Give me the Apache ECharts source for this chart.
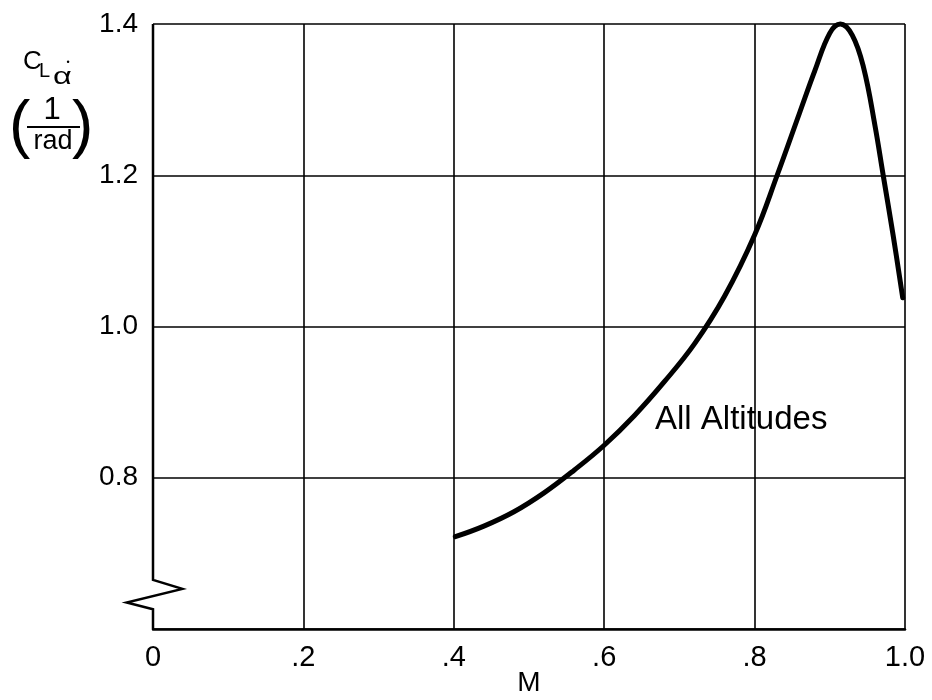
<!DOCTYPE html>
<html>
<head>
<meta charset="utf-8">
<script src="https://cdn.jsdelivr.net/npm/echarts@6.0.0/dist/echarts.min.js"></script>
<style>
  html, body { margin: 0; padding: 0; background: #fff; }
  #main { width: 932px; height: 700px; }
</style>
</head>
<body>
<div id="main"></div>
<script>
// Mach number vs lift derivative
const machValues = [0.402, 0.44, 0.48, 0.52, 0.56, 0.60, 0.64, 0.68, 0.72, 0.76, 0.80, 0.83, 0.86, 0.88, 0.90, 0.914, 0.93, 0.945, 0.96, 0.971, 0.984, 0.997];
const clAlphaDot = [0.722, 0.736, 0.755, 0.780, 0.810, 0.843, 0.882, 0.927, 0.977, 1.040, 1.121, 1.200, 1.283, 1.338, 1.388, 1.400, 1.385, 1.342, 1.266, 1.200, 1.122, 1.038];

const xTickLabels = ['0', '.2', '.4', '.6', '.8', '1.0'];
const yTickLabels = ['', '0.8', '1.0', '1.2', '1.4']; // 0.6 is left blank (broken axis)

// left axis with the zigzag break near the bottom
const breakMarkX = [0, 0, 0.039, -0.035, 0, 0];
const breakMarkY = [1.4, 0.665, 0.653, 0.635, 0.626, 0.6];

const curveLabel = 'All Altitudes';

const FONT = 'Liberation Sans';

const chart = echarts.init(document.getElementById('main'), null, { renderer: 'canvas' });

function txt(x, y, text, size, extra) {
    return {
        type: 'text', x: x, y: y,
        style: Object.assign({ text: text, fontSize: size, fontFamily: FONT, fill: '#000', verticalAlign: 'middle' }, extra || {})
    };
}

const option = {
    animation: false,
    backgroundColor: '#fff',
    grid: { left: 153, right: 27, top: 24, bottom: 71, containLabel: false, outerBoundsMode: 'none' },
    xAxis: {
        type: 'value',
        min: 0, max: 1, interval: 0.2,
        name: 'M',
        nameLocation: 'middle',
        nameGap: 40,
        nameMoveOverlap: false,
        nameTextStyle: { color: '#000', fontSize: 28, fontFamily: FONT },
        axisLine: { show: true, onZero: false, lineStyle: { color: '#000', width: 2.5 } },
        axisTick: { show: false },
        axisLabel: {
            color: '#000', fontSize: 29, fontFamily: FONT, margin: 14,
            formatter: v => xTickLabels[Math.round(v / 0.2)]
        },
        splitLine: { show: true, showMinLine: false, lineStyle: { color: '#000', width: 1.6 } }
    },
    yAxis: {
        type: 'value',
        min: 0.6, max: 1.4, interval: 0.2,
        axisLine: { show: false },
        axisTick: { show: false },
        axisLabel: {
            color: '#000', fontSize: 28, fontFamily: FONT, margin: 15,
            formatter: v => yTickLabels[Math.round((v - 0.6) / 0.2)]
        },
        splitLine: { show: true, lineStyle: { color: '#000', width: 1.6 } }
    },
    series: [
        {
            name: curveLabel,
            type: 'line',
            data: machValues.map((m, i) => [m, clAlphaDot[i]]),
            smooth: 0.4,
            symbol: 'none',
            clip: false,
            lineStyle: { color: '#000', width: 5, cap: 'round', join: 'round' },
            z: 5
        }
    ],
    graphic: [
        txt(655, 420, curveLabel, 33),
        // y axis title: C_L alpha-dot over (1/rad)
        txt(23, 62, 'C', 26),
        txt(39, 71, 'L', 20),
        txt(53, 77, 'α', 24, {}),
        txt(68, 63, '•', 9, { align: 'center' }),
        txt(9, 128, '(', 64),
        txt(72, 128, ')', 64),
        txt(52, 110, '1', 31, { align: 'center' }),
        { type: 'line', shape: { x1: 27, y1: 127, x2: 80, y2: 127 }, style: { stroke: '#000', lineWidth: 2 } },
        txt(53, 142, 'rad', 27, { align: 'center' })
    ]
};
// widen the alpha a little, like the hand lettering
option.graphic[3].scaleX = 1.35;

chart.setOption(option);

// left axis line with the break zigzag, placed through the grid's own scales
const axisPoints = breakMarkX.map((x, i) => chart.convertToPixel({ gridIndex: 0 }, [x, breakMarkY[i]]));
chart.setOption({
    graphic: option.graphic.concat([{
        type: 'polyline',
        shape: { points: axisPoints },
        style: { stroke: '#000', lineWidth: 2.5, fill: null, lineJoin: 'miter' },
        z: 10
    }])
});
</script>
</body>
</html>
